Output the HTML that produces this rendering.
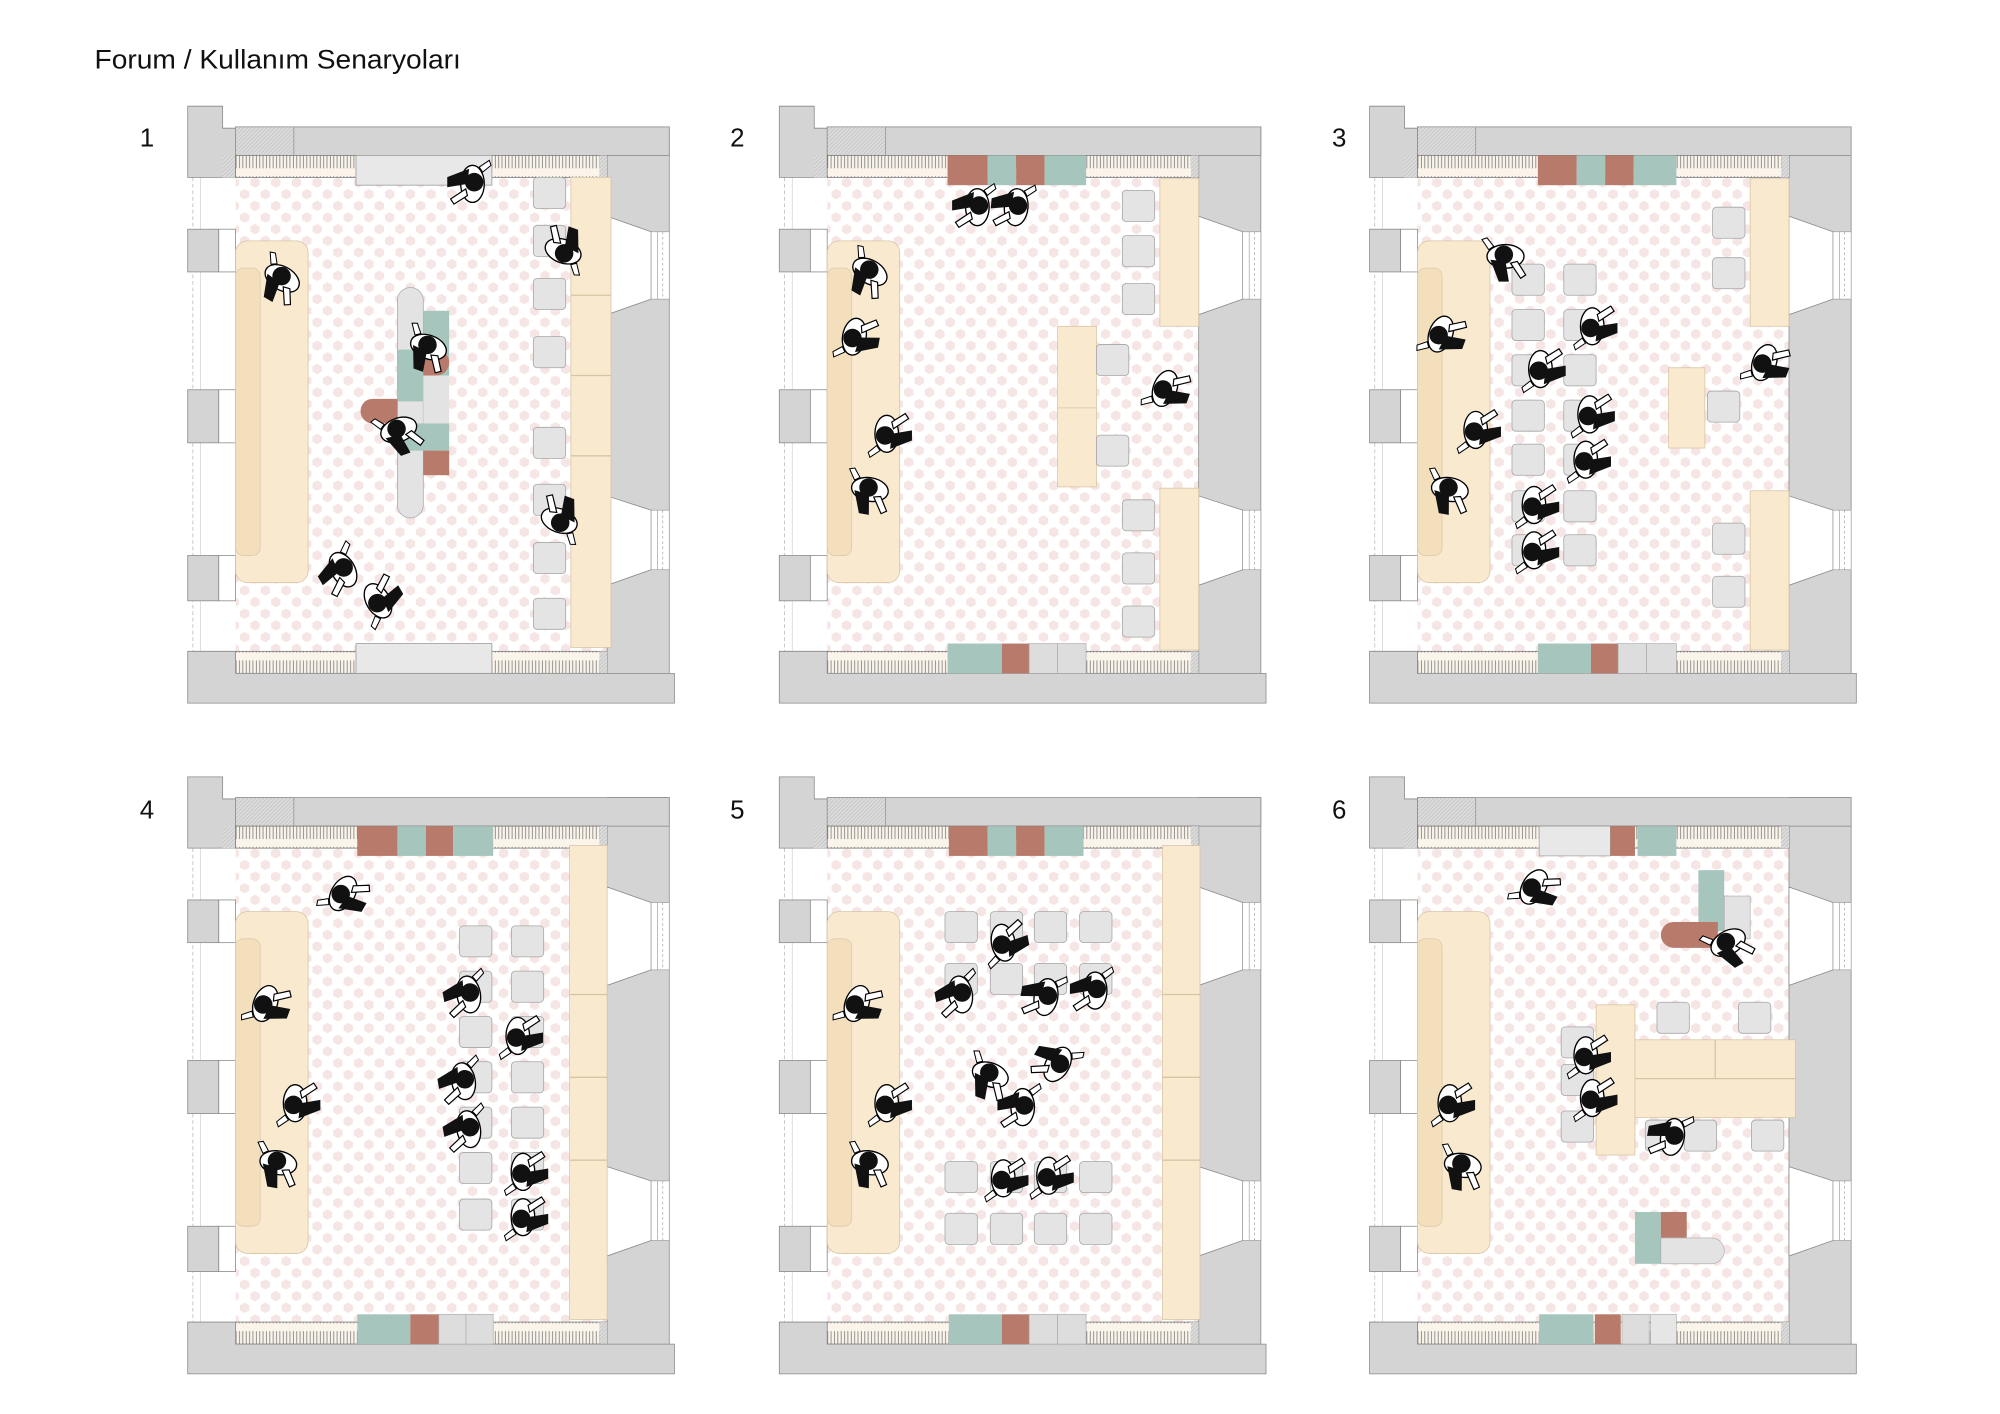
<!DOCTYPE html>
<html><head><meta charset="utf-8"><style>html,body{margin:0;padding:0;background:#fff}svg{display:block}</style></head>
<body>
<svg width="2000" height="1414" viewBox="0 0 1545 1092" preserveAspectRatio="none" xmlns="http://www.w3.org/2000/svg" font-family="Liberation Sans, sans-serif">
<defs>
<pattern id="hex" width="16" height="18" patternUnits="userSpaceOnUse">
<polygon points="4,1 7.6,3 7.6,7 4,9 0.4,7 0.4,3" fill="#f5e5e4"/>
<polygon points="12,10 15.6,12 15.6,16 12,18 8.4,16 8.4,12" fill="#f5e5e4"/>
</pattern>
<pattern id="books" width="2.6" height="17" patternUnits="userSpaceOnUse">
<rect width="2.6" height="17" fill="#faf4ea"/><line x1="1" y1="3" x2="1" y2="14" stroke="#777" stroke-width="0.6"/>
</pattern>
<pattern id="hatch" width="3" height="3" patternUnits="userSpaceOnUse">
<rect width="3" height="3" fill="#dcdcdc"/><path d="M0,3 L3,0" stroke="#bbb" stroke-width="0.5"/>
</pattern>
<g id="base">
<rect x="37" y="55" width="287" height="366" fill="#fff"/>
<rect x="37" y="55" width="287" height="366" fill="url(#hex)"/>
<rect x="0" y="55" width="37" height="366" fill="#fff"/>
<line x1="4" y1="55" x2="4" y2="421" stroke="#bbb" stroke-width=".6" stroke-dasharray="3 2"/>
<line x1="10" y1="55" x2="10" y2="421" stroke="#ccc" stroke-width=".5"/>
<rect x="324" y="16" width="48" height="430" fill="#d4d4d4" stroke="#888" stroke-width=".6"/>
<polygon points="324,85 358,97 358,149 324,161" fill="#fff" stroke="#888" stroke-width=".6"/>
<rect x="358" y="97" width="14" height="52" fill="#fff" stroke="#999" stroke-width=".5"/>
<line x1="363" y1="97" x2="363" y2="149" stroke="#999" stroke-width=".5"/>
<line x1="367" y1="97" x2="367" y2="149" stroke="#999" stroke-width=".5" stroke-dasharray="2 2"/>
<polygon points="324,301 358,312 358,358 324,370" fill="#fff" stroke="#888" stroke-width=".6"/>
<rect x="358" y="312" width="14" height="46" fill="#fff" stroke="#999" stroke-width=".5"/>
<line x1="363" y1="312" x2="363" y2="358" stroke="#999" stroke-width=".5"/>
<line x1="367" y1="312" x2="367" y2="358" stroke="#999" stroke-width=".5" stroke-dasharray="2 2"/>
<rect x="37" y="16" width="335" height="22" fill="#d4d4d4" stroke="#888" stroke-width=".6"/>
<rect x="37" y="16" width="45" height="22" fill="url(#hatch)" stroke="#888" stroke-width=".5"/>
<polygon points="0,0 27,0 27,17 37,17 37,55 0,55" fill="#d4d4d4" stroke="#888" stroke-width=".6"/>
<rect x="27" y="38" width="10" height="17" fill="url(#hatch)"/>
<rect x="37" y="38" width="287" height="17" fill="url(#books)" stroke="#777" stroke-width=".6"/>
<rect x="37" y="421" width="287" height="17" fill="url(#books)" stroke="#777" stroke-width=".6"/>
<rect x="318" y="38" width="6" height="17" fill="url(#hatch)"/>
<rect x="318" y="421" width="6" height="17" fill="url(#hatch)"/>
<polygon points="0,421 37,421 37,438 376,438 376,461 0,461" fill="#d4d4d4" stroke="#888" stroke-width=".6"/>
<rect x="0" y="95" width="24" height="33" fill="#d4d4d4" stroke="#888" stroke-width=".6"/>
<rect x="24" y="95" width="13" height="33" fill="#fff" stroke="#888" stroke-width=".6"/>
<rect x="0" y="219" width="24" height="41" fill="#d4d4d4" stroke="#888" stroke-width=".6"/>
<rect x="24" y="219" width="13" height="41" fill="#fff" stroke="#888" stroke-width=".6"/>
<rect x="0" y="347" width="24" height="35" fill="#d4d4d4" stroke="#888" stroke-width=".6"/>
<rect x="24" y="347" width="13" height="35" fill="#fff" stroke="#888" stroke-width=".6"/>
</g>
<g id="sofa">
<rect x="37" y="104" width="56" height="264" rx="9" fill="#f9e9cf" stroke="#d8c4a4" stroke-width=".6"/>
<rect x="37" y="125" width="19" height="222" rx="6" fill="#f4dfbd" stroke="#d8c4a4" stroke-width=".5"/>
</g>
<g id="pp0">
<ellipse rx="11" ry="7" fill="#fff" stroke="#000" stroke-width="0.8"/>
<path d="M-9,2 L-4,15 L2,15 L0,3Z" fill="#111"/>
<path d="M3,4 L9,13 L12,11 L7,3Z" fill="#fff" stroke="#000" stroke-width=".7"/>
<path d="M-10,-4 L-14,-10 L-11,-11 L-7,-6Z" fill="#fff" stroke="#000" stroke-width=".6"/>
<circle r="5.5" cx="-1" cy="-1" fill="#111"/>
</g>
<g id="pp"><use href="#pp0" transform="scale(1.3)"/></g>
<rect id="ch" width="25" height="24" rx="3" fill="#e4e4e4" stroke="#a5a5a5" stroke-width=".6"/>
</defs>

<rect width="1545" height="1092" fill="#fff"/>
<text x="73" y="53" font-size="21" textLength="283" lengthAdjust="spacingAndGlyphs" fill="#111">Forum / Kullanım Senaryoları</text>
<g font-size="20" fill="#111">
<text x="108" y="113">1</text><text x="564" y="113">2</text><text x="1029" y="113">3</text>
<text x="108" y="632">4</text><text x="564" y="632">5</text><text x="1029" y="632">6</text>
</g>

<!-- PANEL 1 -->
<g transform="translate(145,82)">
<use href="#base"/>
<rect x="130" y="38" width="105" height="23" fill="#e8e8e8" stroke="#999" stroke-width=".6"/>
<rect x="130" y="415" width="105" height="23" fill="#e8e8e8" stroke="#999" stroke-width=".6"/>
<use href="#sofa"/>
<rect x="296" y="55" width="31" height="363" fill="#f9e9cf" stroke="#d8c4a4" stroke-width=".6"/>
<line x1="296" y1="146" x2="327" y2="146" stroke="#d8c4a4"/><line x1="296" y1="208" x2="327" y2="208" stroke="#d8c4a4"/><line x1="296" y1="270" x2="327" y2="270" stroke="#d8c4a4"/>
<use href="#ch" x="267" y="55"/><use href="#ch" x="267" y="92"/><use href="#ch" x="267" y="133"/><use href="#ch" x="267" y="178"/>
<use href="#ch" x="267" y="248"/><use href="#ch" x="267" y="292"/><use href="#ch" x="267" y="337"/><use href="#ch" x="267" y="380"/>
<rect x="162" y="140" width="20" height="178" rx="10" fill="#e3e3e3" stroke="#aaa" stroke-width=".6"/>
<rect x="182" y="158" width="20" height="50" fill="#a6c5bd"/>
<rect x="162" y="188" width="20" height="40" fill="#a6c5bd"/>
<path d="M182,188 H192 A10,10 0 0 1 192,208 H182Z" fill="#b87a6a"/>
<rect x="182" y="208" width="20" height="37" fill="#e3e3e3"/>
<path d="M162,226 V245 H143 A9.5,9.5 0 0 1 143,226Z" fill="#b87a6a"/>
<rect x="162" y="245" width="40" height="21" fill="#a6c5bd"/>
<rect x="182" y="266" width="20" height="19" fill="#b87a6a"/>
<use href="#pp" transform="translate(73,133) rotate(30)"/>
<use href="#pp" transform="translate(220,60) rotate(90)"/>
<use href="#pp" transform="translate(290,112) rotate(200)"/>
<use href="#pp" transform="translate(186,186) rotate(20)"/>
<use href="#pp" transform="translate(163,250) rotate(-20)"/>
<use href="#pp" transform="translate(120,358) rotate(60)"/>
<use href="#pp" transform="translate(147,382) rotate(-120)"/>
<use href="#pp" transform="translate(287,320) rotate(200)"/>
</g>

<!-- PANEL 2 -->
<g transform="translate(602,82)">
<use href="#base"/>
<rect x="130" y="38" width="31" height="23" fill="#b87a6a"/><rect x="161" y="38" width="22" height="23" fill="#a6c5bd"/>
<rect x="183" y="38" width="22" height="23" fill="#b87a6a"/><rect x="205" y="38" width="32" height="23" fill="#a6c5bd"/>
<rect x="130" y="415" width="42" height="23" fill="#a6c5bd"/><rect x="172" y="415" width="21" height="23" fill="#b87a6a"/>
<rect x="193" y="415" width="22" height="23" fill="#ddd" stroke="#aaa" stroke-width=".5"/><rect x="215" y="415" width="22" height="23" fill="#ddd" stroke="#aaa" stroke-width=".5"/>
<use href="#sofa"/>
<rect x="294" y="56" width="30" height="114" fill="#f9e9cf" stroke="#d8c4a4" stroke-width=".6"/>
<rect x="294" y="295" width="30" height="125" fill="#f9e9cf" stroke="#d8c4a4" stroke-width=".6"/>
<use href="#ch" x="265" y="65"/><use href="#ch" x="265" y="100"/><use href="#ch" x="265" y="137"/>
<use href="#ch" x="265" y="304"/><use href="#ch" x="265" y="345"/><use href="#ch" x="265" y="386"/>
<rect x="215" y="170" width="30" height="63" fill="#f9e9cf" stroke="#d8c4a4" stroke-width=".6"/>
<rect x="215" y="233" width="30" height="61" fill="#f9e9cf" stroke="#d8c4a4" stroke-width=".6"/>
<use href="#ch" x="245" y="184"/><use href="#ch" x="245" y="254"/>
<use href="#pp" transform="translate(153,78) rotate(90)"/>
<use href="#pp" transform="translate(183,78) rotate(95)"/>
<use href="#pp" transform="translate(70,128) rotate(30)"/>
<use href="#pp" transform="translate(58,178) rotate(-80)"/>
<use href="#pp" transform="translate(83,253) rotate(-90)"/>
<use href="#pp" transform="translate(70,296) rotate(10)"/>
<use href="#pp" transform="translate(298,218) rotate(-70)"/>
</g>

<!-- PANEL 3 -->
<g transform="translate(1058,82)">
<use href="#base"/>
<rect x="130" y="38" width="30" height="23" fill="#b87a6a"/><rect x="160" y="38" width="22" height="23" fill="#a6c5bd"/>
<rect x="182" y="38" width="22" height="23" fill="#b87a6a"/><rect x="204" y="38" width="33" height="23" fill="#a6c5bd"/>
<rect x="130" y="415" width="41" height="23" fill="#a6c5bd"/><rect x="171" y="415" width="21" height="23" fill="#b87a6a"/>
<rect x="192" y="415" width="22" height="23" fill="#ddd" stroke="#aaa" stroke-width=".5"/><rect x="214" y="415" width="23" height="23" fill="#ddd" stroke="#aaa" stroke-width=".5"/>
<use href="#sofa"/>
<rect x="294" y="56" width="30" height="114" fill="#f9e9cf" stroke="#d8c4a4" stroke-width=".6"/>
<rect x="294" y="297" width="30" height="123" fill="#f9e9cf" stroke="#d8c4a4" stroke-width=".6"/>
<use href="#ch" x="265" y="78"/><use href="#ch" x="265" y="117"/><use href="#ch" x="265" y="322"/><use href="#ch" x="265" y="363"/>
<rect x="231" y="202" width="28" height="62" fill="#f9e9cf" stroke="#d8c4a4" stroke-width=".6"/>
<use href="#ch" x="261" y="220"/>
<use href="#ch" x="110" y="122"/><use href="#ch" x="110" y="157"/><use href="#ch" x="110" y="192"/><use href="#ch" x="110" y="227"/><use href="#ch" x="110" y="261"/><use href="#ch" x="110" y="297"/><use href="#ch" x="110" y="331"/>
<use href="#ch" x="150" y="122"/><use href="#ch" x="150" y="157"/><use href="#ch" x="150" y="192"/><use href="#ch" x="150" y="227"/><use href="#ch" x="150" y="261"/><use href="#ch" x="150" y="297"/><use href="#ch" x="150" y="331"/>
<use href="#pp" transform="translate(105,116) rotate(0)"/>
<use href="#pp" transform="translate(55,176) rotate(-70)"/>
<use href="#pp" transform="translate(82,250) rotate(-90)"/>
<use href="#pp" transform="translate(62,296) rotate(10)"/>
<use href="#pp" transform="translate(172,170) rotate(-90)"/>
<use href="#pp" transform="translate(132,203) rotate(-90)"/>
<use href="#pp" transform="translate(170,238) rotate(-90)"/>
<use href="#pp" transform="translate(167,273) rotate(-90)"/>
<use href="#pp" transform="translate(127,308) rotate(-90)"/>
<use href="#pp" transform="translate(127,343) rotate(-90)"/>
<use href="#pp" transform="translate(305,198) rotate(-70)"/>
</g>

<!-- PANEL 4 -->
<g transform="translate(145,600)">
<use href="#base"/>
<rect x="131" y="38" width="31" height="23" fill="#b87a6a"/><rect x="162" y="38" width="22" height="23" fill="#a6c5bd"/>
<rect x="184" y="38" width="21" height="23" fill="#b87a6a"/><rect x="205" y="38" width="31" height="23" fill="#a6c5bd"/>
<rect x="131" y="415" width="41" height="23" fill="#a6c5bd"/><rect x="172" y="415" width="22" height="23" fill="#b87a6a"/>
<rect x="194" y="415" width="21" height="23" fill="#ddd" stroke="#aaa" stroke-width=".5"/><rect x="215" y="415" width="21" height="23" fill="#ddd" stroke="#aaa" stroke-width=".5"/>
<use href="#sofa"/>
<rect x="295" y="53" width="29" height="366" fill="#f9e9cf" stroke="#d8c4a4" stroke-width=".6"/>
<line x1="295" y1="168" x2="324" y2="168" stroke="#d8c4a4"/><line x1="295" y1="232" x2="324" y2="232" stroke="#d8c4a4"/><line x1="295" y1="296" x2="324" y2="296" stroke="#d8c4a4"/>
<use href="#ch" x="210" y="115"/><use href="#ch" x="210" y="150"/><use href="#ch" x="210" y="185"/><use href="#ch" x="210" y="220"/><use href="#ch" x="210" y="255"/><use href="#ch" x="210" y="290"/><use href="#ch" x="210" y="326"/>
<use href="#ch" x="250" y="115"/><use href="#ch" x="250" y="150"/><use href="#ch" x="250" y="185"/><use href="#ch" x="250" y="220"/><use href="#ch" x="250" y="255"/><use href="#ch" x="250" y="290"/><use href="#ch" x="250" y="326"/>
<use href="#pp" transform="translate(120,90) rotate(-60)"/>
<use href="#pp" transform="translate(60,175) rotate(-70)"/>
<use href="#pp" transform="translate(83,252) rotate(-90)"/>
<use href="#pp" transform="translate(70,298) rotate(10)"/>
<use href="#pp" transform="translate(217,168) rotate(80)"/>
<use href="#pp" transform="translate(255,200) rotate(-90)"/>
<use href="#pp" transform="translate(213,235) rotate(80)"/>
<use href="#pp" transform="translate(217,272) rotate(80)"/>
<use href="#pp" transform="translate(259,305) rotate(-90)"/>
<use href="#pp" transform="translate(259,340) rotate(-90)"/>
</g>

<!-- PANEL 5 -->
<g transform="translate(602,600)">
<use href="#base"/>
<rect x="131" y="38" width="30" height="23" fill="#b87a6a"/><rect x="161" y="38" width="22" height="23" fill="#a6c5bd"/>
<rect x="183" y="38" width="22" height="23" fill="#b87a6a"/><rect x="205" y="38" width="30" height="23" fill="#a6c5bd"/>
<rect x="131" y="415" width="41" height="23" fill="#a6c5bd"/><rect x="172" y="415" width="21" height="23" fill="#b87a6a"/>
<rect x="193" y="415" width="22" height="23" fill="#ddd" stroke="#aaa" stroke-width=".5"/><rect x="215" y="415" width="22" height="23" fill="#ddd" stroke="#aaa" stroke-width=".5"/>
<use href="#sofa"/>
<rect x="296" y="53" width="29" height="366" fill="#f9e9cf" stroke="#d8c4a4" stroke-width=".6"/>
<line x1="296" y1="168" x2="325" y2="168" stroke="#d8c4a4"/><line x1="296" y1="232" x2="325" y2="232" stroke="#d8c4a4"/><line x1="296" y1="296" x2="325" y2="296" stroke="#d8c4a4"/>
<use href="#ch" x="128" y="104"/><use href="#ch" x="163" y="104"/><use href="#ch" x="197" y="104"/><use href="#ch" x="232" y="104"/>
<use href="#ch" x="128" y="144"/><use href="#ch" x="163" y="144"/><use href="#ch" x="197" y="144"/><use href="#ch" x="232" y="144"/>
<use href="#ch" x="128" y="297"/><use href="#ch" x="163" y="297"/><use href="#ch" x="197" y="297"/><use href="#ch" x="232" y="297"/>
<use href="#ch" x="128" y="337"/><use href="#ch" x="163" y="337"/><use href="#ch" x="197" y="337"/><use href="#ch" x="232" y="337"/>
<use href="#pp" transform="translate(60,175) rotate(-70)"/>
<use href="#pp" transform="translate(83,252) rotate(-90)"/>
<use href="#pp" transform="translate(70,298) rotate(10)"/>
<use href="#pp" transform="translate(173,128) rotate(-100)"/>
<use href="#pp" transform="translate(140,168) rotate(80)"/>
<use href="#pp" transform="translate(206,170) rotate(100)"/>
<use href="#pp" transform="translate(244,165) rotate(90)"/>
<use href="#pp" transform="translate(163,230) rotate(20)"/>
<use href="#pp" transform="translate(215,222) rotate(120)"/>
<use href="#pp" transform="translate(188,255) rotate(90)"/>
<use href="#pp" transform="translate(173,310) rotate(-90)"/>
<use href="#pp" transform="translate(208,308) rotate(-90)"/>
</g>

<!-- PANEL 6 -->
<g transform="translate(1058,600)">
<use href="#base"/>
<rect x="131" y="38" width="55" height="23" fill="#e8e8e8" stroke="#999" stroke-width=".5"/><rect x="186" y="38" width="19" height="23" fill="#b87a6a"/><rect x="207" y="38" width="30" height="23" fill="#a6c5bd"/>
<rect x="131" y="415" width="42" height="23" fill="#a6c5bd"/><rect x="174" y="415" width="20" height="23" fill="#b87a6a"/>
<rect x="195" y="415" width="21" height="23" fill="#ddd" stroke="#aaa" stroke-width=".5"/><rect x="217" y="415" width="20" height="23" fill="#e6e6e6" stroke="#aaa" stroke-width=".5"/>
<use href="#sofa"/>
<rect x="254" y="72" width="20" height="47" fill="#a6c5bd"/>
<rect x="274" y="92" width="20" height="33" fill="#e3e3e3" stroke="#aaa" stroke-width=".5"/>
<path d="M269,112 V132 H235 A10,10 0 0 1 235,112Z" fill="#b87a6a"/>
<rect x="148" y="193" width="25" height="24" rx="3" fill="#e4e4e4" stroke="#a5a5a5" stroke-width=".6"/>
<rect x="148" y="222" width="25" height="24" rx="3" fill="#e4e4e4" stroke="#a5a5a5" stroke-width=".6"/>
<rect x="148" y="258" width="25" height="24" rx="3" fill="#e4e4e4" stroke="#a5a5a5" stroke-width=".6"/>
<use href="#ch" x="222" y="174"/><use href="#ch" x="285" y="174"/>
<use href="#ch" x="213" y="265"/><use href="#ch" x="243" y="265"/><use href="#ch" x="295" y="265"/>
<rect x="175" y="176" width="30" height="116" fill="#f9e9cf" stroke="#d8c4a4" stroke-width=".6"/>
<rect x="205" y="203" width="124" height="60" fill="#f9e9cf" stroke="#d8c4a4" stroke-width=".6"/>
<line x1="267" y1="203" x2="267" y2="233" stroke="#d8c4a4"/><line x1="205" y1="233" x2="329" y2="233" stroke="#d8c4a4"/>
<rect x="205" y="336" width="20" height="40" fill="#a6c5bd"/>
<rect x="225" y="336" width="20" height="20" fill="#b87a6a"/>
<path d="M225,356 H264 A10,10 0 0 1 264,376 H225Z" fill="#e3e3e3" stroke="#aaa" stroke-width=".5"/>
<use href="#pp" transform="translate(127,85) rotate(-60)"/>
<use href="#pp" transform="translate(277,128) rotate(-30)"/>
<use href="#pp" transform="translate(167,215) rotate(-90)"/>
<use href="#pp" transform="translate(172,248) rotate(-90)"/>
<use href="#pp" transform="translate(234,278) rotate(100)"/>
<use href="#pp" transform="translate(62,252) rotate(-90)"/>
<use href="#pp" transform="translate(72,300) rotate(10)"/>
</g>
</svg>
</body></html>
